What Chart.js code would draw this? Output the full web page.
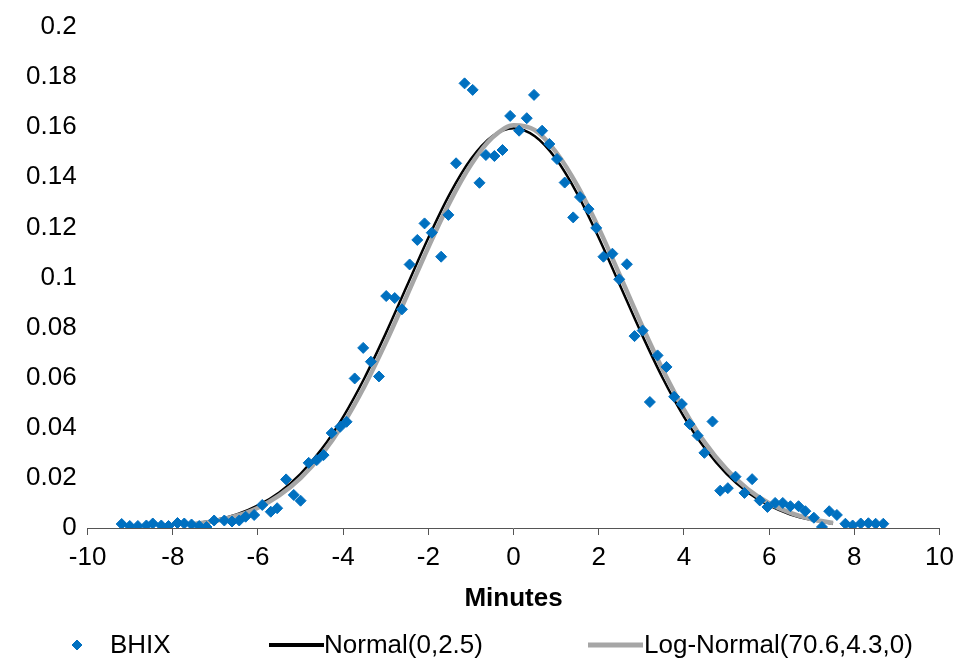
<!DOCTYPE html>
<html>
<head>
<meta charset="utf-8">
<script src="https://cdn.jsdelivr.net/npm/chart.js@4.4.1/dist/chart.umd.min.js"></script>
<style>
html,body{margin:0;padding:0;background:#ffffff;}
#wrap{width:961px;height:659px;position:relative;}
</style>
</head>
<body>
<div id="wrap"><canvas id="c" width="961" height="659"></canvas></div>
<script>
// ---------- data ----------
const seriesNames = ['BHIX', 'Normal(0,2.5)', 'Log-Normal(70.6,4.3,0)'];
const xAxisTitle = 'Minutes';
const xTickValues = [-10, -8, -6, -4, -2, 0, 2, 4, 6, 8, 10];
const yTickValues = [0, 0.02, 0.04, 0.06, 0.08, 0.1, 0.12, 0.14, 0.16, 0.18, 0.2];
const yTickLabels = ['0', '0.02', '0.04', '0.06', '0.08', '0.1', '0.12', '0.14', '0.16', '0.18', '0.2'];

const bhixX = [-9.20,-9.01,-8.82,-8.62,-8.47,-8.27,-8.10,-7.89,-7.73,-7.56,-7.38,-7.21,-7.03,-6.79,-6.61,-6.44,-6.29,-6.09,-5.90,-5.70,
  -5.55,-5.34,-5.16,-5.00,-4.81,-4.62,-4.46,-4.27,-4.07,-3.92,-3.73,-3.53,-3.35,-3.16,-2.99,-2.79,-2.62,-2.44,-2.26,-2.09,
  -1.92,-1.70,-1.53,-1.35,-1.15,-0.96,-0.80,-0.65,-0.45,-0.26,-0.08,0.13,0.31,0.48,0.67,0.84,1.02,1.20,1.40,1.56,
  1.76,1.94,2.11,2.32,2.48,2.66,2.84,3.03,3.20,3.38,3.59,3.77,3.95,4.13,4.32,4.48,4.67,4.85,5.03,5.21,
  5.42,5.60,5.78,5.96,6.14,6.32,6.50,6.69,6.85,7.05,7.24,7.41,7.59,7.79,7.96,8.15,8.33,8.50,8.68];
const bhixY = [0.0016,0.0008,0.0008,0.0010,0.0018,0.0010,0.0008,0.0020,0.0018,0.0014,0.0008,0.0004,0.0030,0.0030,0.0026,0.0030,0.0045,0.0052,0.0092,0.0065,
  0.0079,0.0194,0.0132,0.0109,0.0260,0.0271,0.0291,0.0379,0.0404,0.0424,0.0597,0.0719,0.0664,0.0605,0.0926,0.0918,0.0873,0.1052,0.1150,0.1216,
  0.1179,0.1083,0.1250,0.1456,0.1775,0.1749,0.1378,0.1489,0.1485,0.1509,0.1645,0.1586,0.1636,0.1729,0.1586,0.1533,0.1473,0.1379,0.1240,0.1321,
  0.1273,0.1198,0.1083,0.1095,0.0993,0.1053,0.0766,0.0788,0.0503,0.0689,0.0643,0.0524,0.0495,0.0415,0.0369,0.0300,0.0425,0.0149,0.0159,0.0205,
  0.0140,0.0195,0.0110,0.0084,0.0100,0.0100,0.0087,0.0087,0.0067,0.0041,0.0004,0.0067,0.0052,0.0017,0.0010,0.0018,0.0019,0.0017,0.0017];

const curveX = [-7.5,-7,-6.5,-6,-5.5,-5,-4.5,-4,-3.5,-3,-2.5,-2,-1.5,-1,-0.5,0,0.5,1,1.5,2,2.5,3,3.5,4,4.5,5,5.5,6,6.5,7,7.5];
const normalY = [0.0018,0.0032,0.0054,0.0090,0.0142,0.0216,0.0316,0.0444,0.0599,0.0777,0.0968,0.1159,0.1333,0.1473,0.1564,0.1596,
  0.1564,0.1473,0.1333,0.1159,0.0968,0.0777,0.0599,0.0444,0.0316,0.0216,0.0142,0.0090,0.0054,0.0032,0.0018];
const logNormalY = [0.0016,0.0028,0.0049,0.0081,0.0130,0.0199,0.0294,0.0416,0.0566,0.0740,0.0929,0.1121,0.1300,0.1450,0.1558,0.1608,
  0.1588,0.1500,0.1366,0.1197,0.1007,0.0814,0.0633,0.0473,0.0339,0.0234,0.0155,0.0099,0.0060,0.0035,0.0020];

// ---------- styling ----------
const FONT = '"Liberation Sans", Arial, Helvetica, sans-serif';
const BLUE = '#0070C0';
const BLACK = '#000000';
const GRAY = '#A6A6A6';
const TEXT = '#000000';

const pts = (xs, ys) => xs.map((x, i) => ({x: x, y: ys[i]}));

const legendPlugin = {
  id: 'bottomLegend',
  afterDraw(chart) {
    const ctx = chart.ctx;
    const y = 645;
    ctx.save();
    ctx.font = '26px ' + FONT;
    ctx.fillStyle = TEXT;
    ctx.textBaseline = 'middle';
    ctx.textAlign = 'left';
    ctx.fillStyle = BLUE;
    ctx.strokeStyle = BLUE;
    Chart.helpers.drawPoint(ctx, {pointStyle: 'rectRot', radius: 5, rotation: 0, borderWidth: 1}, 77, y);
    ctx.fillStyle = TEXT;
    ctx.fillText(seriesNames[0], 110, y + 1);
    ctx.lineWidth = 4;
    ctx.lineCap = 'butt';
    ctx.strokeStyle = BLACK;
    ctx.beginPath(); ctx.moveTo(269, y); ctx.lineTo(324, y); ctx.stroke();
    ctx.fillText(seriesNames[1], 324, y + 1);
    ctx.lineWidth = 5;
    ctx.strokeStyle = GRAY;
    ctx.beginPath(); ctx.moveTo(588, y); ctx.lineTo(643, y); ctx.stroke();
    ctx.fillText(seriesNames[2], 644, y + 1);
    ctx.restore();
  }
};

new Chart(document.getElementById('c'), {
  type: 'scatter',
  data: {
    datasets: [
      {
        label: seriesNames[0],
        data: pts(bhixX, bhixY),
        pointStyle: 'rectRot',
        pointRadius: 5.5,
        pointBorderWidth: 1,
        backgroundColor: BLUE,
        borderColor: BLUE,
        showLine: false,
        order: 0
      },
      {
        label: seriesNames[1],
        data: pts(curveX, normalY),
        showLine: true,
        borderColor: BLACK,
        borderWidth: 2.5,
        pointRadius: 0,
        cubicInterpolationMode: 'monotone',
        fill: false,
        order: 2
      },
      {
        label: seriesNames[2],
        data: pts(curveX, logNormalY),
        showLine: true,
        borderColor: GRAY,
        borderWidth: 4.5,
        pointRadius: 0,
        cubicInterpolationMode: 'monotone',
        fill: false,
        order: 1
      }
    ]
  },
  options: {
    responsive: false,
    animation: false,
    devicePixelRatio: 1,
    layout: {padding: {left: 0, right: 16, top: 27, bottom: 0}},
    plugins: {
      legend: {display: false},
      tooltip: {enabled: false}
    },
    scales: {
      x: {
        type: 'linear',
        min: -10,
        max: 10,
        afterBuildTicks: (s) => { s.ticks = xTickValues.map(v => ({value: v})); },
        afterFit: (s) => { s.height = 131; },
        ticks: {
          font: {family: FONT, size: 26},
          color: TEXT,
          padding: 7,
          maxRotation: 0,
          callback: (v) => String(v)
        },
        grid: {display: true, drawOnChartArea: false, drawTicks: true, tickLength: 7, color: '#555555', lineWidth: 1},
        border: {display: true, color: '#555555', width: 1},
        title: {
          display: true,
          text: xAxisTitle,
          font: {family: FONT, size: 26, weight: 'bold'},
          color: TEXT,
          padding: {top: 0, bottom: 45}
        }
      },
      y: {
        type: 'linear',
        min: 0,
        max: 0.2,
        afterBuildTicks: (s) => { s.ticks = yTickValues.map(v => ({value: v})); },
        afterFit: (s) => { s.width = 87.6; },
        ticks: {
          font: {family: FONT, size: 26},
          color: TEXT,
          padding: 11,
          callback: (v, i) => yTickLabels[i]
        },
        grid: {display: false, drawTicks: false},
        border: {display: false}
      }
    }
  },
  plugins: [legendPlugin]
});
</script>
</body>
</html>
